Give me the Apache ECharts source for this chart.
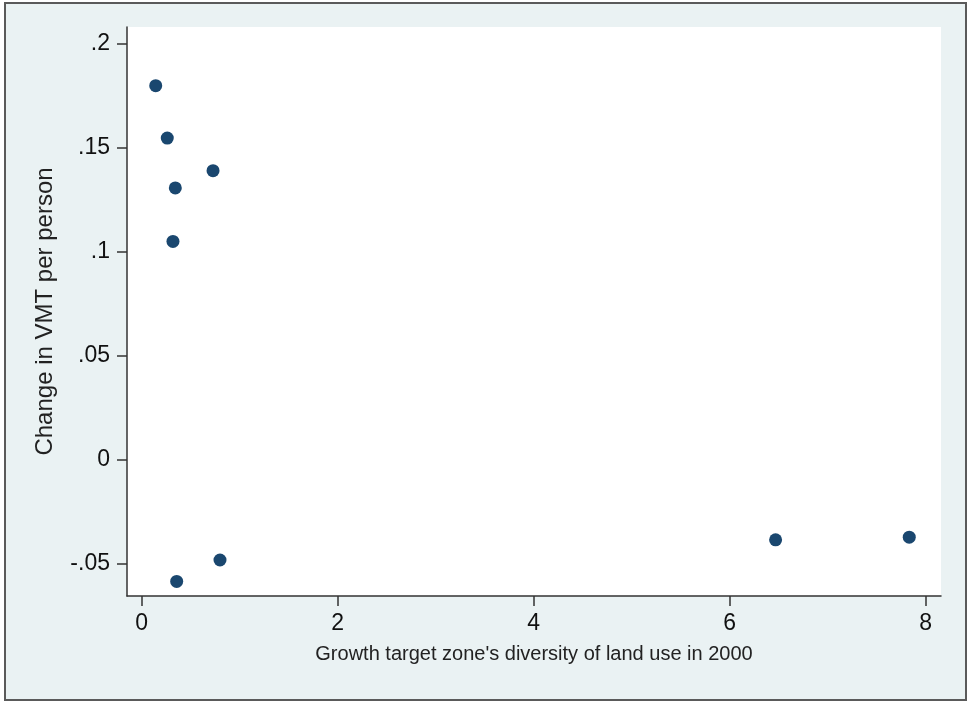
<!DOCTYPE html>
<html>
<head>
<meta charset="utf-8">
<script src="https://cdn.jsdelivr.net/npm/echarts@6/dist/echarts.min.js"></script>
<style>
html,body{margin:0;padding:0;background:#ffffff;}
#frame{position:absolute;left:4px;top:2px;width:963px;height:699px;box-sizing:border-box;border:2px solid #5a5a5a;background:#eaf2f3;}
#chart{position:absolute;left:0;top:0;width:971px;height:703px;}
</style>
</head>
<body>
<div id="frame"></div>
<div id="chart"></div>
<script>
// Data
const diversity = [0.143, 0.261, 0.728, 0.343, 0.319, 0.357, 0.799, 6.469, 7.833];
const vmtChange = [0.1800, 0.1548, 0.1391, 0.1308, 0.1051, -0.0584, -0.0481, -0.0384, -0.0371];
const xTicks = [0, 2, 4, 6, 8];
const yTicks = [-0.05, 0, 0.05, 0.1, 0.15, 0.2];
const yTickLabels = ['-.05', '0', '.05', '.1', '.15', '.2'];
const xTitle = "Growth target zone's diversity of land use in 2000";
const yTitle = 'Change in VMT per person';

const points = diversity.map((x, i) => [x, vmtChange[i]]);
const chart = echarts.init(document.getElementById('chart'), null, {renderer: 'canvas'});
const font = 'Liberation Sans, Arial, sans-serif';
chart.setOption({
  backgroundColor: 'transparent',
  animation: false,
  grid: {left: 127, top: 27, right: 30, bottom: 107, show: true, backgroundColor: '#ffffff', borderWidth: 0},
  xAxis: {
    type: 'value', min: -0.15, max: 8.157,
    name: xTitle, nameLocation: 'middle', nameGap: 48,
    nameTextStyle: {fontFamily: font, fontSize: 20, color: '#222'},
    axisLine: {show: true, onZero: false, lineStyle: {color: '#333', width: 1.5}},
    axisTick: {show: true, length: 10, customValues: xTicks, lineStyle: {color: '#333', width: 1.5}},
    axisLabel: {customValues: xTicks, fontFamily: font, fontSize: 23, color: '#111', margin: 16},
    splitLine: {show: false}
  },
  yAxis: {
    type: 'value', min: -0.0654, max: 0.2082,
    name: yTitle, nameLocation: 'middle', nameGap: 70, nameRotate: 90,
    nameTextStyle: {fontFamily: font, fontSize: 24, color: '#222'},
    axisLine: {show: true, onZero: false, lineStyle: {color: '#333', width: 1.5}},
    axisTick: {show: true, length: 10, customValues: yTicks, lineStyle: {color: '#333', width: 1.5}},
    axisLabel: {
      customValues: yTicks, fontFamily: font, fontSize: 23, color: '#111', margin: 17,
      formatter: function (v) {
        const i = yTicks.findIndex(t => Math.abs(t - v) < 1e-9);
        return i >= 0 ? yTickLabels[i] : '';
      }
    },
    splitLine: {show: false}
  },
  series: [{
    type: 'scatter',
    data: points,
    symbol: 'circle',
    symbolSize: 13,
    itemStyle: {color: '#1a476f', opacity: 1}
  }]
});
</script>
</body>
</html>
